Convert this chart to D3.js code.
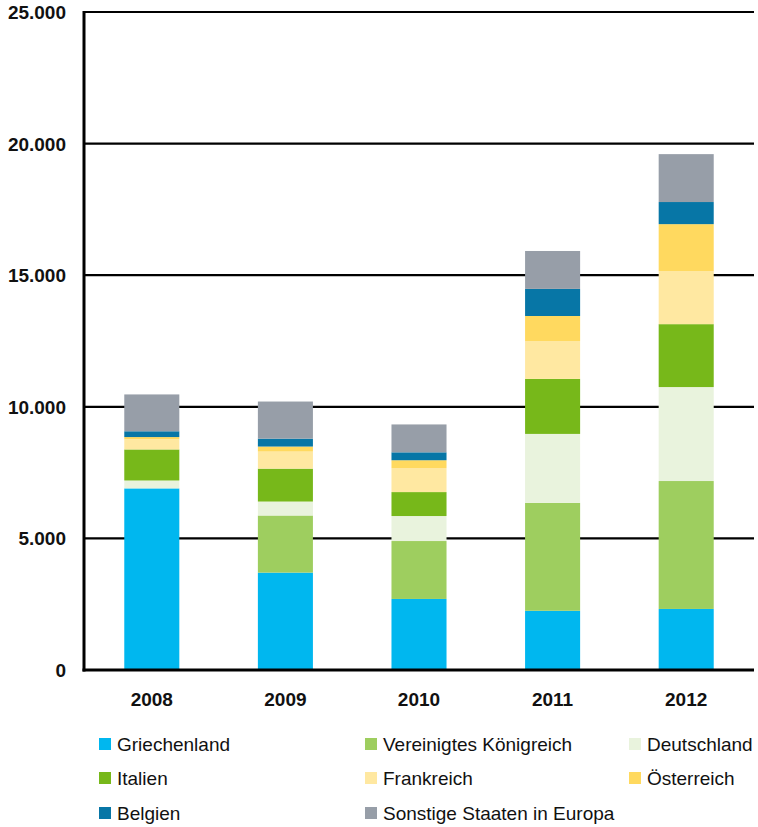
<!DOCTYPE html>
<html>
<head>
<meta charset="utf-8">
<script src="https://cdn.jsdelivr.net/npm/d3@7"></script>
<style>
  html, body { margin: 0; padding: 0; background: #fff; }
  svg { display: block; }
</style>
</head>
<body>
<svg id="chart" width="758" height="827"></svg>
<script>
// ---- Data ----
const years = ["2008", "2009", "2010", "2011", "2012"];
const seriesNames = ["Griechenland", "Vereinigtes Königreich", "Deutschland", "Italien",
                     "Frankreich", "Österreich", "Belgien", "Sonstige Staaten in Europa"];
const griechenland = [6900, 3700, 2700, 2250, 2320];
const vereinigtesKoenigreich = [0, 2170, 2200, 4100, 4860];
const deutschland = [300, 530, 950, 2620, 3570];
const italien = [1180, 1250, 910, 2090, 2390];
const frankreich = [390, 650, 910, 1440, 2010];
const oesterreich = [80, 190, 300, 950, 1790];
const belgien = [220, 300, 300, 1030, 840];
const sonstige = [1400, 1410, 1060, 1440, 1820];
const yTicks = [0, 5000, 10000, 15000, 20000, 25000];
const colors = ["#00b7ef", "#9ece5f", "#e9f3dd", "#77b81a", "#ffe8a1", "#ffd95f", "#0776a6", "#979ea8"];

const seriesValues = [griechenland, vereinigtesKoenigreich, deutschland, italien,
                      frankreich, oesterreich, belgien, sonstige];
const table = years.map((yr, i) => {
  const row = { year: yr };
  seriesNames.forEach((s, k) => row[s] = seriesValues[k][i]);
  return row;
});

// ---- Layout ----
const svg = d3.select("#chart");
const mLeft = 85, mRight = 753, mTop = 12, mBottom = 670;

const x = d3.scaleBand().domain(years).range([mLeft, mRight])
  .paddingInner(0.588).paddingOuter(0.294);
const y = d3.scaleLinear().domain([0, 25000]).range([mBottom, mTop]);

const locale = d3.formatLocale({ decimal: ",", thousands: ".", grouping: [3], currency: ["", "€"] });
const fmt = locale.format(",d");

// gridlines
svg.append("g").selectAll("line")
  .data(yTicks.filter(t => t > 0))
  .join("line")
  .attr("x1", mLeft).attr("x2", mRight + 1)
  .attr("y1", d => y(d)).attr("y2", d => y(d))
  .attr("stroke", "#000").attr("stroke-width", 2.2);

// stacked bars
const stacked = d3.stack().keys(seriesNames)(table);
svg.append("g").selectAll("g")
  .data(stacked)
  .join("g")
  .attr("fill", (d, i) => colors[i])
  .selectAll("rect")
  .data(d => d)
  .join("rect")
  .attr("x", d => x(d.data.year))
  .attr("width", x.bandwidth())
  .attr("y", d => y(d[1]))
  .attr("height", d => Math.max(0, y(d[0]) - y(d[1])));

// axes lines
svg.append("line")
  .attr("x1", mLeft - 1).attr("x2", mLeft - 1)
  .attr("y1", mTop - 1).attr("y2", mBottom + 1.5)
  .attr("stroke", "#000").attr("stroke-width", 3);
svg.append("line")
  .attr("x1", mLeft - 2.5).attr("x2", mRight + 1)
  .attr("y1", mBottom).attr("y2", mBottom)
  .attr("stroke", "#000").attr("stroke-width", 3);

// y labels
svg.append("g").selectAll("text")
  .data(yTicks)
  .join("text")
  .attr("x", 66)
  .attr("y", d => y(d) + 7)
  .attr("text-anchor", "end")
  .attr("font-family", "'Liberation Sans', Arial, sans-serif")
  .attr("font-weight", "bold")
  .attr("font-size", 19)
  .attr("fill", "#111")
  .text(d => fmt(d));

// x labels
svg.append("g").selectAll("text")
  .data(years)
  .join("text")
  .attr("x", d => x(d) + x.bandwidth() / 2)
  .attr("y", 706)
  .attr("text-anchor", "middle")
  .attr("font-family", "'Liberation Sans', Arial, sans-serif")
  .attr("font-weight", "bold")
  .attr("font-size", 19)
  .attr("fill", "#111")
  .text(d => d);

// legend
const colX = [99, 365, 629];
const rowY = [738, 772, 807];
const legend = svg.append("g").selectAll("g")
  .data(seriesNames)
  .join("g")
  .attr("transform", (d, i) => `translate(${colX[i % 3]},${rowY[Math.floor(i / 3)]})`);
legend.append("rect")
  .attr("width", 12).attr("height", 12)
  .attr("fill", (d, i) => colors[i]);
legend.append("text")
  .attr("x", 18).attr("y", 13)
  .attr("font-family", "'Liberation Sans', Arial, sans-serif")
  .attr("font-size", 19)
  .attr("fill", "#111")
  .text(d => d);
</script>
</body>
</html>
